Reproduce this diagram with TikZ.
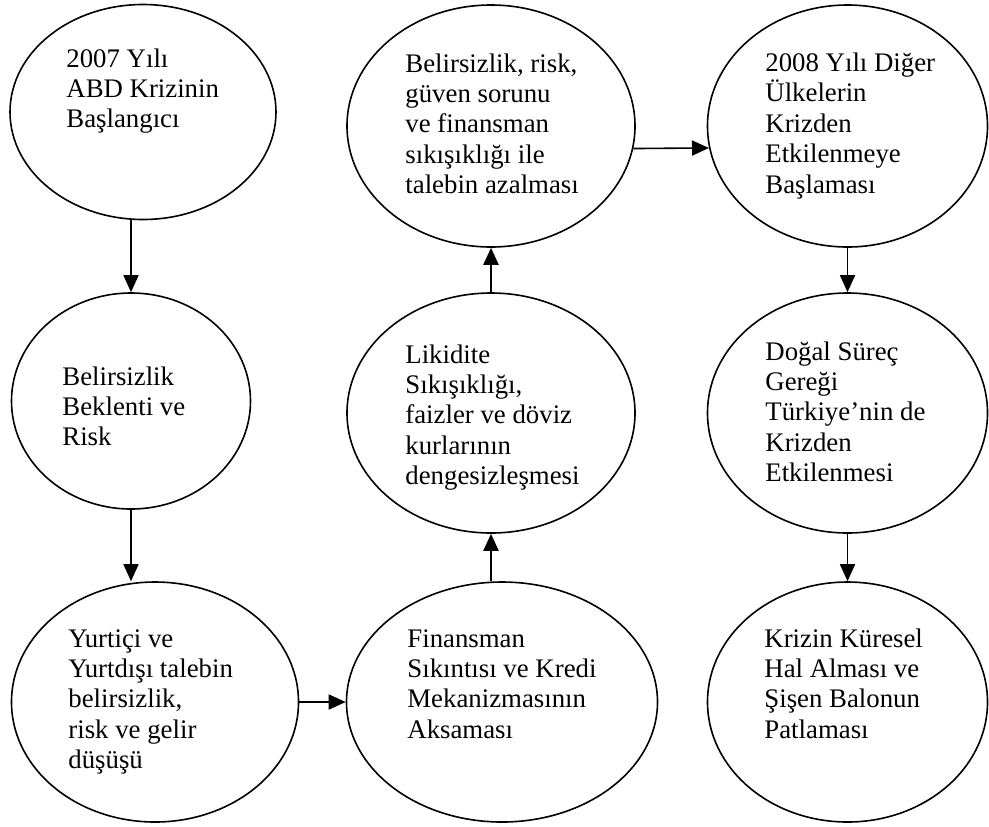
\documentclass[tikz,border=0pt]{standalone}
\usepackage{fontspec}
\setmainfont{Liberation Serif}
\usepackage{tikz}
\usetikzlibrary{
    calc,
    arrows.meta,
    shapes.geometric
}
\tikzset{
    oval/.style={ellipse, draw, line width=0.8pt, inner sep=0pt},
    ovaltext/.style={anchor=base west, inner sep=0pt,
        font=\fontsize{13.4}{15.2}\selectfont},
    flow/.style={-{Triangle[length=8.5pt, width=7.5pt]}, line width=0.8pt},
    flowthick/.style={flow, line width=1.2pt}
}
\newcommand{\ovallines}[1]{\begin{tabular}[t]{@{}l@{}}#1\end{tabular}}

\begin{document}
\begin{tikzpicture}[x=0.5pt, y=-0.5pt]
        \useasboundingbox (0,0) rectangle (989,826);
        % ovals
        \node[oval, minimum width=133pt, minimum height=107.5pt] (abd) at (143,112) {};
        \node[oval, minimum width=119.5pt, minimum height=108pt] (beklenti) at (131,401) {};
        \node[oval, minimum width=143.5pt, minimum height=120pt] (talep) at (155,702) {};
        \node[oval, minimum width=155.5pt, minimum height=120pt] (kredi) at (502,702) {};
        \node[oval, minimum width=144pt, minimum height=120pt] (likidite) at (491,413) {};
        \node[oval, minimum width=144pt, minimum height=121pt] (guven) at (491,126) {};
        \node[oval, minimum width=140pt, minimum height=121pt] (diger) at (847.5,126) {};
        \node[oval, minimum width=140pt, minimum height=120pt] (turkiye) at (847.5,413) {};
        \node[oval, minimum width=140pt, minimum height=120pt] (kuresel) at (847.5,702) {};
        % texts
        \node[ovaltext] (abd-t) at (66,67) {\ovallines{2007 Yılı\\ABD Krizinin\\Başlangıcı}};
        \node[ovaltext] (beklenti-t) at (62,385) {\ovallines{Belirsizlik\\Beklenti ve\\Risk}};
        \node[ovaltext] (talep-t) at (68,647) {\ovallines{Yurtiçi ve\\Yurtdışı talebin\\belirsizlik,\\risk ve gelir\\düşüşü}};
        \node[ovaltext] (kredi-t) at (407,647) {\ovallines{Finansman\\Sıkıntısı ve Kredi\\Mekanizmasının\\Aksaması}};
        \node[ovaltext] (likidite-t) at (405,363) {\ovallines{Likidite\\Sıkışıklığı,\\faizler ve döviz\\kurlarının\\dengesizleşmesi}};
        \node[ovaltext] (guven-t) at (405,72) {\ovallines{Belirsizlik, risk,\\güven sorunu\\ve finansman\\sıkışıklığı ile\\talebin azalması}};
        \node[ovaltext] (diger-t) at (765,71) {\ovallines{2008 Yılı Diğer\\Ülkelerin\\Krizden\\Etkilenmeye\\Başlaması}};
        \node[ovaltext] (turkiye-t) at (765,360) {\ovallines{Doğal Süreç\\Gereği\\Türkiye’nin de\\Krizden\\Etkilenmesi}};
        \node[ovaltext] (kuresel-t) at (764,647) {\ovallines{Krizin Küresel\\Hal Alması ve\\Şişen Balonun\\Patlaması}};
        % arrows
        \draw[flow] (abd.south -| beklenti.north) -- (beklenti.north);
        \draw[flow] (beklenti.south) -- (beklenti.south |- talep.north);
        \draw[flow] (talep.east) -- (kredi.west);
        \draw[flowthick] (kredi.north -| likidite.south) -- (likidite.south);
        \draw[flowthick] (likidite.north) -- (guven.south);
        \draw[flow] (guven.-9.3) -- (diger.189.5);
        \draw[flow] (diger.south) -- (turkiye.north);
        \draw[flow] (turkiye.south) -- (kuresel.north);
    \end{tikzpicture}
\end{document}
